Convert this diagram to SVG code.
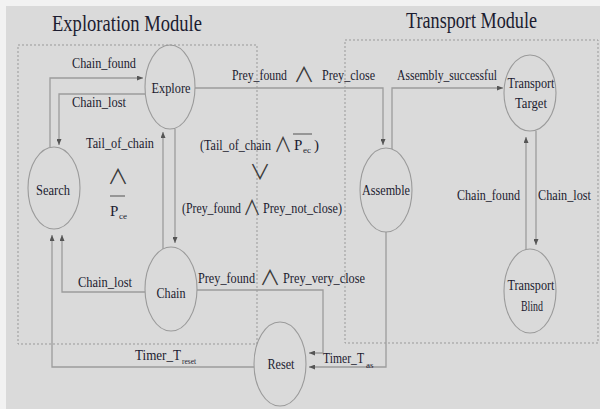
<svg xmlns="http://www.w3.org/2000/svg" width="600" height="409" viewBox="0 0 600 409">
  <defs>
    <marker id="arrow" markerWidth="7" markerHeight="5" refX="6" refY="2.5" orient="auto" markerUnits="userSpaceOnUse">
      <path d="M0,0 L6,2.5 L0,5 z" fill="#555"/>
    </marker>
    <style>
      text { fill: #1c1c30; }
      .title { font-size: 24px; }
      .lbl { font-size: 15px; }
      .sub { font-size: 9px; }
      .op { font-family: "Noto Sans CJK SC", "DejaVu Sans", sans-serif; font-size: 21px; fill: #3a3a3a; }
      .state { fill: none; stroke: #9a9a9a; stroke-width: 1.1; }
      .module { fill: none; stroke: #999; stroke-width: 1; stroke-dasharray: 2 2; }
      .edge { fill: none; stroke: #9c9c9c; stroke-width: 1.3; }
      .bar { stroke: #444; stroke-width: 0.9; }
    </style>
  </defs>

  <!-- canvas -->
  <rect x="0" y="0" width="600" height="409" fill="#f2f2f2"/>
  <rect x="6" y="6" width="594" height="403" fill="#dadada"/>

  <g font-family="'Liberation Serif', 'DejaVu Serif', serif">
  <!-- module frames -->
  <g id="exploration-module">
    <rect class="module" x="18" y="45" width="239" height="299"/>
    <text class="title" x="52" y="31" textLength="150" lengthAdjust="spacingAndGlyphs">Exploration Module</text>
  </g>
  <g id="transport-module">
    <rect class="module" x="345" y="40" width="253" height="303"/>
    <text class="title" x="406" y="28" textLength="131" lengthAdjust="spacingAndGlyphs">Transport Module</text>
  </g>

  <!-- transitions -->
  <g id="connectors">
    <path class="edge" d="M50,147 V78 H143" marker-end="url(#arrow)"/>
    <path class="edge" d="M145,94 H59 V145" marker-end="url(#arrow)"/>
    <path class="edge" d="M163,249 V132" marker-end="url(#arrow)"/>
    <path class="edge" d="M175,129 V243" marker-end="url(#arrow)"/>
    <path class="edge" d="M195,88 H383 V145" marker-end="url(#arrow)"/>
    <path class="edge" d="M392,149 V88 H503" marker-end="url(#arrow)"/>
    <path class="edge" d="M536,131 V245" marker-end="url(#arrow)"/>
    <path class="edge" d="M526,250 V137" marker-end="url(#arrow)"/>
    <path class="edge" d="M145,292 H62 V235" marker-end="url(#arrow)"/>
    <path class="edge" d="M254,367 H52 V235" marker-end="url(#arrow)"/>
    <path class="edge" d="M197,290 H323 V353 H309" marker-end="url(#arrow)"/>
    <path class="edge" d="M386,232 V367 H309" marker-end="url(#arrow)"/>
  </g>

  <!-- transition labels -->
  <g id="labels">
    <text class="lbl" x="72" y="68" textLength="64" lengthAdjust="spacingAndGlyphs">Chain_found</text>
    <text class="lbl" x="72" y="107" textLength="54" lengthAdjust="spacingAndGlyphs">Chain_lost</text>

    <text class="lbl" x="86" y="148" textLength="68" lengthAdjust="spacingAndGlyphs">Tail_of_chain</text>
    <text class="op" x="118" y="184" text-anchor="middle">∧</text>
    <line class="bar" x1="110" y1="196" x2="125" y2="196"/>
    <text class="lbl" x="110" y="216">P</text>
    <text class="sub" x="119" y="219">ce</text>

    <text class="lbl" x="232" y="80" textLength="55" lengthAdjust="spacingAndGlyphs">Prey_found</text>
    <text class="op" x="304" y="82" text-anchor="middle">∧</text>
    <text class="lbl" x="322" y="80" textLength="53" lengthAdjust="spacingAndGlyphs">Prey_close</text>

    <text class="lbl" x="397" y="80" textLength="100" lengthAdjust="spacingAndGlyphs">Assembly_successful</text>

    <text class="lbl" x="200" y="150" textLength="71" lengthAdjust="spacingAndGlyphs">(Tail_of_chain</text>
    <text class="op" x="283" y="152" text-anchor="middle" textLength="18" lengthAdjust="spacingAndGlyphs">∧</text>
    <line class="bar" x1="293" y1="134" x2="312" y2="134"/>
    <text class="lbl" x="294" y="150">P</text>
    <text class="sub" x="303" y="153">ec</text>
    <text class="lbl" x="314" y="150">)</text>
    <text class="op" x="260" y="179" text-anchor="middle">∨</text>
    <text class="lbl" x="182" y="213" textLength="59" lengthAdjust="spacingAndGlyphs">(Prey_found</text>
    <text class="op" x="252" y="215" text-anchor="middle" textLength="18" lengthAdjust="spacingAndGlyphs">∧</text>
    <text class="lbl" x="263" y="213" textLength="79" lengthAdjust="spacingAndGlyphs">Prey_not_close)</text>

    <text class="lbl" x="457" y="200" textLength="63" lengthAdjust="spacingAndGlyphs">Chain_found</text>
    <text class="lbl" x="538" y="200" textLength="53" lengthAdjust="spacingAndGlyphs">Chain_lost</text>

    <text class="lbl" x="78" y="287" textLength="54" lengthAdjust="spacingAndGlyphs">Chain_lost</text>
    <text class="lbl" x="198" y="283" textLength="57" lengthAdjust="spacingAndGlyphs">Prey_found</text>
    <text class="op" x="270" y="285" text-anchor="middle">∧</text>
    <text class="lbl" x="283" y="283" textLength="82" lengthAdjust="spacingAndGlyphs">Prey_very_close</text>

    <text class="lbl" x="135" y="360" textLength="46" lengthAdjust="spacingAndGlyphs">Timer_T</text>
    <text class="sub" x="182" y="364" textLength="14" lengthAdjust="spacingAndGlyphs">reset</text>
    <text class="lbl" x="323" y="363" textLength="41" lengthAdjust="spacingAndGlyphs">Timer_T</text>
    <text class="sub" x="366" y="368">as</text>
  </g>

  <!-- states -->
  <g id="explore">
    <ellipse class="state" cx="170" cy="87" rx="25" ry="42"/>
    <text class="lbl" x="171" y="93" text-anchor="middle" textLength="39" lengthAdjust="spacingAndGlyphs">Explore</text>
  </g>
  <g id="search">
    <ellipse class="state" cx="54" cy="188" rx="26" ry="41"/>
    <text class="lbl" x="53" y="195" text-anchor="middle" textLength="34" lengthAdjust="spacingAndGlyphs">Search</text>
  </g>
  <g id="chain">
    <ellipse class="state" cx="171" cy="289" rx="26" ry="42"/>
    <text class="lbl" x="171" y="298" text-anchor="middle" textLength="29" lengthAdjust="spacingAndGlyphs">Chain</text>
  </g>
  <g id="assemble">
    <ellipse class="state" cx="386" cy="190" rx="26" ry="42"/>
    <text class="lbl" x="386" y="195" text-anchor="middle" textLength="48" lengthAdjust="spacingAndGlyphs">Assemble</text>
  </g>
  <g id="transport-target">
    <ellipse class="state" cx="530" cy="93" rx="26" ry="38"/>
    <text class="lbl" x="531" y="88" text-anchor="middle" textLength="47" lengthAdjust="spacingAndGlyphs">Transport</text>
    <text class="lbl" x="531" y="108" text-anchor="middle" textLength="32" lengthAdjust="spacingAndGlyphs">Target</text>
  </g>
  <g id="transport-blind">
    <ellipse class="state" cx="530" cy="291" rx="26" ry="42"/>
    <text class="lbl" x="531" y="290" text-anchor="middle" textLength="47" lengthAdjust="spacingAndGlyphs">Transport</text>
    <text class="lbl" x="532" y="311" text-anchor="middle" textLength="22" lengthAdjust="spacingAndGlyphs">Blind</text>
  </g>
  <g id="reset">
    <ellipse class="state" cx="280" cy="364" rx="26" ry="42"/>
    <text class="lbl" x="281" y="369" text-anchor="middle" textLength="27" lengthAdjust="spacingAndGlyphs">Reset</text>
  </g>
  </g>
</svg>
